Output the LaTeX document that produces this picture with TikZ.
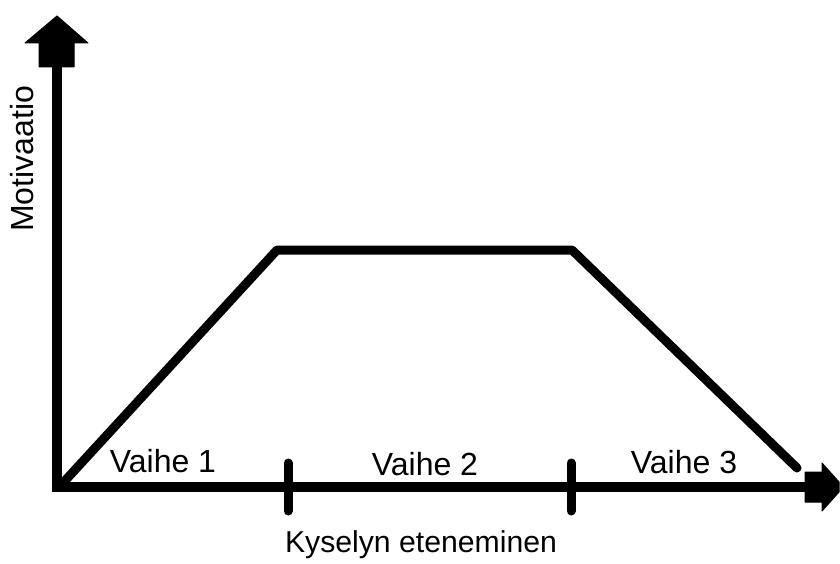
\documentclass[tikz,border=0pt]{standalone}
\usepackage{fontspec}
\setmainfont{Liberation Sans}
\begin{document}
\begin{tikzpicture}[x=1pt,y=-1pt,
  axisline/.style={line width=10pt},
  curveline/.style={line width=9pt,line join=round,line cap=round},
  tickline/.style={line width=9pt,line cap=round},
  arrowhead/.style={fill=black,draw=black,line width=1pt,line join=round},
  lbl/.style={font=\fontsize{32}{36}\selectfont,anchor=base,inner sep=0pt}]
\useasboundingbox (0,0) rectangle (840,564);
% axes points
\coordinate (O) at (57,487);
\coordinate (Ytop) at (57,67);
\coordinate (Xend) at (806,487);
\draw[axisline] (57,492) -- (Ytop);
\draw[axisline] (52,487) -- (Xend);
% y arrow head
\draw[arrowhead] (39,67) -- (39,43) -- (25,43) -- (57,16) -- (88,43) -- (74,43) -- (74,67) -- cycle;
% x arrow head
\draw[arrowhead] (805,472) -- (822,472) -- (822,463) -- (839,482) -- (839,492) -- (822,511) -- (822,502) -- (805,502) -- cycle;
% ticks
\coordinate (T1a) at (288,463); \coordinate (T1b) at (288,511);
\coordinate (T2a) at (571,463); \coordinate (T2b) at (571,511);
\draw[tickline] (T1a) -- (T1b);
\draw[tickline] (T2a) -- (T2b);
% trapezoid
\coordinate (P0) at (62,484);
\coordinate (P1) at (277,250);
\coordinate (P2) at (572,250);
\coordinate (P3) at (797,468);
\draw[curveline] (P0) -- (P1) -- (P2) -- (P3);
% labels
\node[lbl] (v1) at (163,472) {Vaihe 1};
\node[lbl] (v2) at (425,475) {Vaihe 2};
\node[lbl] (v3) at (684,473) {Vaihe 3};
\node[lbl,font=\fontsize{30.2}{36}\selectfont] (xl) at (421,552) {Kyselyn eteneminen};
\node[lbl,rotate=90] (yl) at (33,159) {Motivaatio};
\end{tikzpicture}
\end{document}
